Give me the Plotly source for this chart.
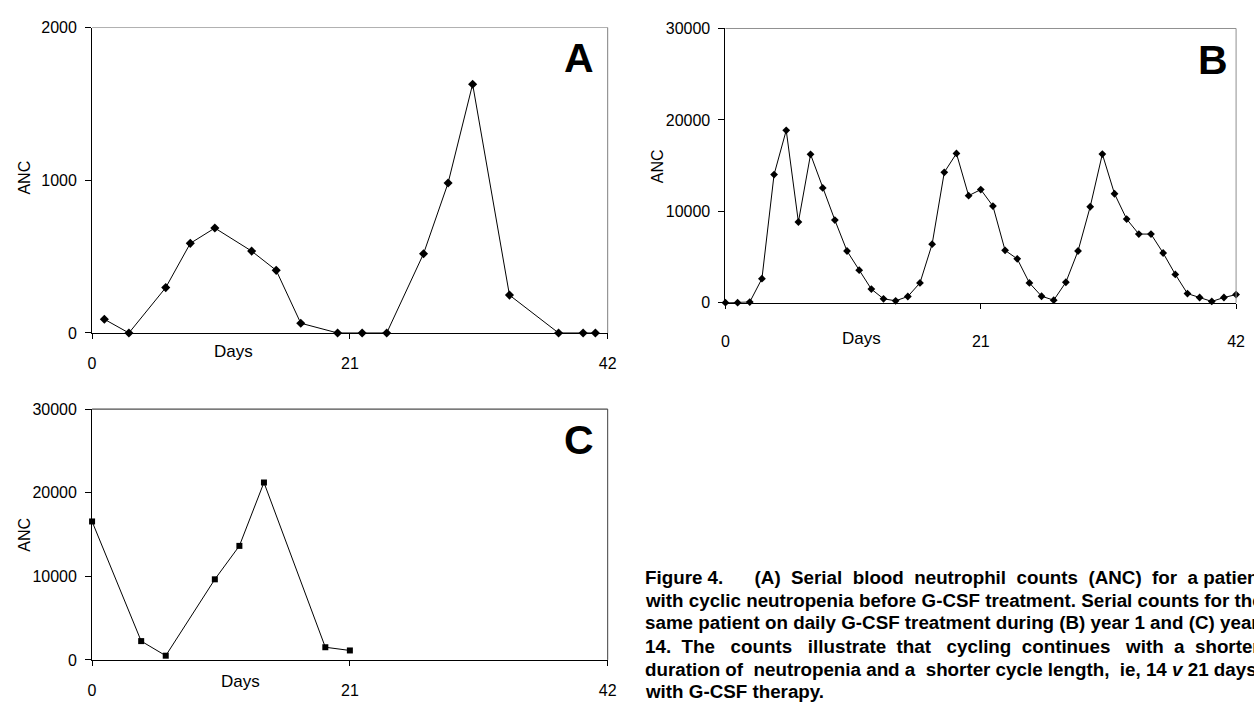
import plotly.graph_objects as go

# ---------------- data ----------------
a_days = [1, 3, 6, 8, 10, 13, 15, 17, 20, 22, 24, 27, 29, 31, 34, 38, 40, 41]
a_anc = [90, 0, 297, 587, 687, 536, 410, 64, 0, 0, 0, 519, 982, 1629, 248, 0, 0, 0]

b_days = [0, 1, 2, 3, 4, 5, 6, 7, 8, 9, 10, 11, 12, 13, 14, 15, 16, 17, 18, 19, 20,
          21, 22, 23, 24, 25, 26, 27, 28, 29, 30, 31, 32, 33, 34, 35, 36, 37, 38, 39,
          40, 41, 42]
b_anc = [0, 0, 70, 2630, 14020, 18860, 8830, 16230, 12560, 9040, 5660, 3560, 1490,
         430, 210, 680, 2170, 6410, 14270, 16330, 11710, 12380, 10570, 5730, 4800,
         2170, 710, 280, 2240, 5660, 10500, 16260, 11920, 9150, 7510, 7510, 5440,
         3100, 1000, 570, 140, 570, 890]

c_days = [0, 4, 6, 10, 12, 14, 19, 21]
c_anc = [16560, 2250, 505, 9640, 13640, 21220, 1516, 1130]

x_ticks = [0, 21, 42]
a_yticks = [0, 1000, 2000]
bc_yticks = [0, 10000, 20000, 30000]

NB = "\u00a0"


def gap(n):
    return NB * (n - 1) + " "


caption_lines = [
    "Figure 4." + gap(6) + "(A)" + gap(2) + "Serial" + gap(2) + "blood" + gap(2) + "neutrophil"
    + gap(2) + "counts" + gap(2) + "(ANC)" + gap(2) + "for" + gap(2) + "a" + gap(1) + "patient",
    "with cyclic neutropenia before G-CSF treatment. Serial counts for the",
    "same patient on daily G-CSF treatment during (B) year 1 and (C) year",
    "14." + gap(2) + "The" + gap(3) + "counts" + gap(3) + "illustrate" + gap(2) + "that"
    + gap(3) + "cycling" + gap(2) + "continues" + gap(3) + "with" + gap(2) + "a" + gap(2) + "shorter",
    "duration of" + gap(2) + "neutropenia and a" + gap(2) + "shorter cycle length,"
    + gap(2) + "ie, 14 <i>v</i> 21 days",
    "with G-CSF therapy.",
]

W, H = 1254, 706
SANS = "Liberation Sans, Arial, sans-serif"


def px(x):
    return x / W


def py(y):
    return 1 - y / H


fig = go.Figure()

fig.add_trace(go.Scatter(x=a_days, y=a_anc, mode="lines+markers",
                         line=dict(color="black", width=1),
                         marker=dict(symbol="diamond", size=7, color="black"),
                         xaxis="x", yaxis="y", showlegend=False, cliponaxis=False))
fig.add_trace(go.Scatter(x=b_days, y=b_anc, mode="lines+markers",
                         line=dict(color="black", width=1),
                         marker=dict(symbol="diamond", size=6, color="black"),
                         xaxis="x2", yaxis="y2", showlegend=False, cliponaxis=False))
fig.add_trace(go.Scatter(x=c_days, y=c_anc, mode="lines+markers",
                         line=dict(color="black", width=1),
                         marker=dict(symbol="square", size=6, color="black"),
                         xaxis="x3", yaxis="y3", showlegend=False, cliponaxis=False))

panels = {
    "A": dict(xd=[px(89), px(610)], yd=[py(333), py(20)], yr=[0, 2000], yt=a_yticks, xs=11),
    "B": dict(xd=[px(729), px(1245)], yd=[py(302), py(21)], yr=[0, 30000], yt=bc_yticks, xs=19),
    "C": dict(xd=[px(89), px(610)], yd=[py(668), py(411)], yr=[0, 30000], yt=bc_yticks, xs=11),
}
suffix = {"A": "", "B": "2", "C": "3"}

for k, p in panels.items():
    s = suffix[k]
    fig.layout["xaxis" + s] = dict(
        domain=p["xd"], range=[0, 42], anchor="y" + s, tickvals=x_ticks,
        ticktext=[str(v) for v in x_ticks],
        ticks="outside", ticklen=5, tickcolor="black", showline=True,
        linecolor="black", linewidth=1, showgrid=False, zeroline=False,
        tickfont=dict(family=SANS, size=16, color="black"),
        ticklabelstandoff=p["xs"], fixedrange=True)
    fig.layout["yaxis" + s] = dict(
        domain=p["yd"], range=p["yr"], anchor="x" + s, tickvals=p["yt"],
        ticktext=[str(v) for v in p["yt"]],
        ticks="outside", ticklen=6, tickcolor="black", showline=True,
        linecolor="black", linewidth=1, showgrid=False, zeroline=False,
        tickfont=dict(family=SANS, size=16, color="black"),
        ticklabelstandoff=5, fixedrange=True)

# frame top/right lines
frame_colors = {"A": ("#b0b0b0", "#808080"), "B": ("#909090", "#909090"), "C": ("#202020", "#404040")}
shapes = []
for k in panels:
    s = suffix[k]
    xr = "x" + s + " domain"
    yr = "y" + s + " domain"
    top_c, right_c = frame_colors[k]
    shapes.append(dict(type="line", xref=xr, yref=yr, x0=0, x1=1, y0=1, y1=1,
                       line=dict(color=top_c, width=1)))
    shapes.append(dict(type="line", xref=xr, yref=yr, x0=1, x1=1, y0=0, y1=1,
                       line=dict(color=right_c, width=1)))

annotations = []
# panel letters
for letter, (x, y) in {"A": (581, 51), "B": (1222, 53), "C": (581, 443)}.items():
    annotations.append(dict(text="<b>" + letter + "</b>", x=px(x), y=py(y), xref="paper",
                            yref="paper", showarrow=False, xanchor="center", yanchor="middle",
                            font=dict(family=SANS, size=41, color="black")))
# Days labels
for (x, y) in [(232, 352), (866, 339), (239, 690)]:
    annotations.append(dict(text="Days", x=px(x), y=py(y), xref="paper", yref="paper",
                            showarrow=False, xanchor="center", yanchor="middle",
                            font=dict(family=SANS, size=17, color="black")))
# ANC labels
for (x, y) in [(21, 174), (660, 162), (21, 540)]:
    annotations.append(dict(text="ANC", x=px(x), y=py(y), xref="paper", yref="paper",
                            showarrow=False, xanchor="center", yanchor="middle", textangle=-90,
                            font=dict(family=SANS, size=16, color="black")))
# caption
cap_y = [584, 607, 630, 654, 678, 700]
for line, y in zip(caption_lines, cap_y):
    annotations.append(dict(text="<b>" + line + "</b>", x=px(646), y=py(y), xref="paper",
                            yref="paper", showarrow=False, xanchor="left", yanchor="middle",
                            align="left",
                            font=dict(family=SANS, size=18.8, color="black")))

fig.update_layout(width=W, height=H, margin=dict(l=0, r=0, t=0, b=0),
                  paper_bgcolor="white", plot_bgcolor="white",
                  shapes=shapes, annotations=annotations, showlegend=False)

fig.write_html("out.html", config={"displayModeBar": False},
               post_script="document.body.style.margin='0';document.body.style.overflow='hidden';")
